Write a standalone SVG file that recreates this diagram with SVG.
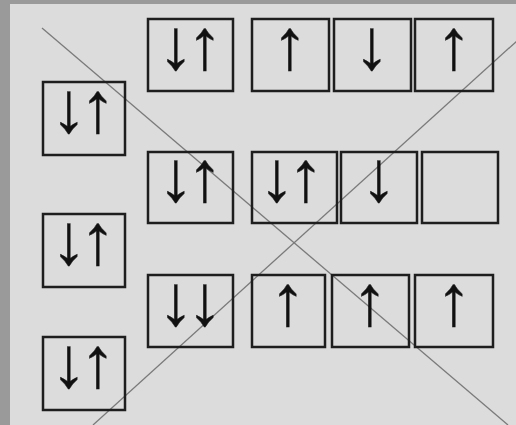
<svg xmlns="http://www.w3.org/2000/svg" width="516" height="425" viewBox="0 0 516 425">
<style>
.box{fill:none;stroke:#1e1e1e;stroke-width:2.5}
.ar{font-family:"Liberation Sans",Arial,sans-serif;font-size:72px;fill:#111;stroke:#111;stroke-width:0.3;text-anchor:middle}
.ln{stroke:#7a7a7a;stroke-width:1.3;fill:none}
</style>
<rect x="0" y="0" width="516" height="425" fill="#dcdcdc"/>
<rect x="0" y="0" width="10" height="425" fill="#9a9a9a"/>
<rect x="0" y="0" width="516" height="4" fill="#9a9a9a"/>
<g id="connectors">
<line class="ln" x1="42" y1="28" x2="508" y2="425"/>
<line class="ln" x1="93" y1="425" x2="518" y2="40"/>
</g>
<g id="L1"><rect class="box" x="43" y="82" width="82" height="73"/><text class="ar" x="69 98" y="132">↓↑</text></g>
<g id="L2"><rect class="box" x="43" y="214" width="82" height="73"/><text class="ar" x="69 98" y="264">↓↑</text></g>
<g id="L3"><rect class="box" x="43" y="337" width="82" height="73"/><text class="ar" x="69 98" y="387">↓↑</text></g>
<g id="T1"><rect class="box" x="148" y="19" width="85" height="72"/><text class="ar" x="176 205" y="69">↓↑</text></g>
<g id="T2"><rect class="box" x="252" y="19" width="77" height="72"/><text class="ar" x="290" y="69">↑</text></g>
<g id="T3"><rect class="box" x="334" y="19" width="77" height="72"/><text class="ar" x="372" y="69">↓</text></g>
<g id="T4"><rect class="box" x="415" y="19" width="78" height="72"/><text class="ar" x="454" y="69">↑</text></g>
<g id="M1"><rect class="box" x="148" y="152" width="85" height="71"/><text class="ar" x="176 205" y="201">↓↑</text></g>
<g id="M2"><rect class="box" x="252" y="152" width="85" height="71"/><text class="ar" x="277 306" y="201">↓↑</text></g>
<g id="M3"><rect class="box" x="341" y="152" width="76" height="71"/><text class="ar" x="379" y="201">↓</text></g>
<g id="M4"><rect class="box" x="422" y="152" width="76" height="71"/></g>
<g id="B1"><rect class="box" x="148" y="275" width="85" height="72"/><text class="ar" x="176 205" y="325">↓↓</text></g>
<g id="B2"><rect class="box" x="252" y="275" width="73" height="72"/><text class="ar" x="288" y="325">↑</text></g>
<g id="B3"><rect class="box" x="332" y="275" width="77" height="72"/><text class="ar" x="370" y="325">↑</text></g>
<g id="B4"><rect class="box" x="415" y="275" width="78" height="72"/><text class="ar" x="454" y="325">↑</text></g>
</svg>
